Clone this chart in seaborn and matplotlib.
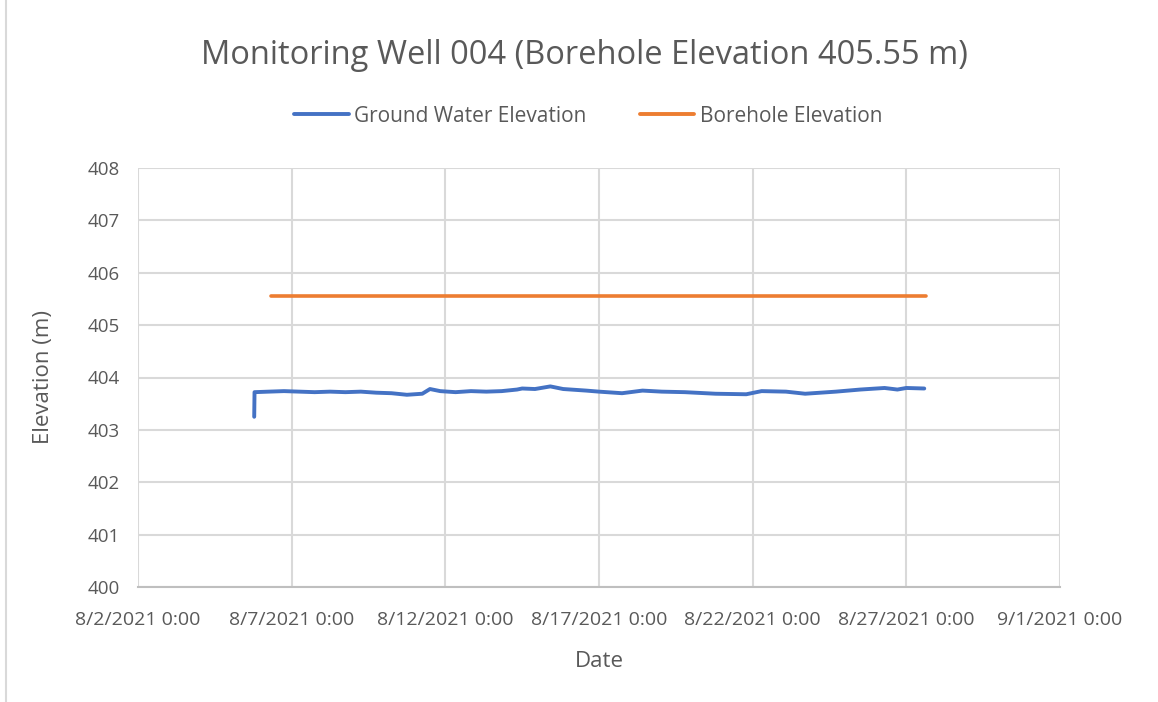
import matplotlib
matplotlib.use("Agg")
import matplotlib.pyplot as plt
import matplotlib.dates as mdates
from matplotlib.lines import Line2D
import pandas as pd
import seaborn as sns

# Logger readings for monitoring well 004
gw_times = [
    "2021-08-05 18:45", "2021-08-05 19:00", "2021-08-06 06:00", "2021-08-06 18:00",
    "2021-08-07 06:00", "2021-08-07 18:00", "2021-08-08 06:00", "2021-08-08 18:00",
    "2021-08-09 06:00", "2021-08-09 18:00", "2021-08-10 06:00", "2021-08-10 18:00",
    "2021-08-11 06:00", "2021-08-11 12:00", "2021-08-11 20:00", "2021-08-12 08:00",
    "2021-08-12 20:00", "2021-08-13 08:00", "2021-08-13 20:00", "2021-08-14 08:00",
    "2021-08-14 12:00", "2021-08-14 22:00", "2021-08-15 10:00", "2021-08-15 20:00",
    "2021-08-16 14:00", "2021-08-17 00:00", "2021-08-17 18:00", "2021-08-18 10:00",
    "2021-08-19 01:00", "2021-08-19 19:00", "2021-08-20 19:00", "2021-08-21 19:00",
    "2021-08-22 07:00", "2021-08-23 02:00", "2021-08-23 17:00", "2021-08-24 17:00",
    "2021-08-25 12:00", "2021-08-26 07:00", "2021-08-26 17:00", "2021-08-27 00:00",
    "2021-08-27 14:00",
]
gw_elev = [
    403.25, 403.72, 403.73, 403.74,
    403.73, 403.72, 403.73, 403.72,
    403.73, 403.71, 403.70, 403.67,
    403.69, 403.78, 403.74, 403.72,
    403.74, 403.73, 403.74, 403.77,
    403.79, 403.78, 403.83, 403.78,
    403.75, 403.73, 403.70, 403.75,
    403.73, 403.72, 403.69, 403.68,
    403.74, 403.73, 403.69, 403.73,
    403.77, 403.80, 403.77, 403.80,
    403.79,
]

borehole_times = ["2021-08-06 08:00", "2021-08-27 15:30"]
borehole_elev = [405.55, 405.55]

x_ticks = ["2021-08-02", "2021-08-07", "2021-08-12", "2021-08-17",
           "2021-08-22", "2021-08-27", "2021-09-01"]
y_ticks = [400, 401, 402, 403, 404, 405, 406, 407, 408]

gw = pd.DataFrame({"Date": pd.to_datetime(gw_times), "Elevation": gw_elev})
bh = pd.DataFrame({"Date": pd.to_datetime(borehole_times), "Elevation": borehole_elev})

BLUE = "#4472C4"
ORANGE = "#ED7D31"
GRID = "#D9D9D9"
TEXT = "#595959"

sns.set_theme(style="white")
plt.rcParams["font.family"] = ["Open Sans", "DejaVu Sans"]

fig = plt.figure(figsize=(11.58, 7.02), dpi=100)
ax = fig.add_axes([138 / 1158, 1 - 587 / 702, (1060 - 138) / 1158, (587 - 168) / 702])

sns.lineplot(data=gw, x="Date", y="Elevation", ax=ax, color=BLUE, linewidth=2.8,
             estimator=None, sort=False)
sns.lineplot(data=bh, x="Date", y="Elevation", ax=ax, color=ORANGE, linewidth=2.6,
             estimator=None, sort=False)

ax.set_xlim(pd.Timestamp(x_ticks[0]), pd.Timestamp(x_ticks[-1]))
ax.set_ylim(y_ticks[0], y_ticks[-1])
ax.set_xticks(pd.to_datetime(x_ticks))
ax.set_yticks(y_ticks)


def fmt_date(v, pos=None):
    d = mdates.num2date(v)
    return f"{d.month}/{d.day}/{d.year} {d.hour}:{d.minute:02d}"


ax.xaxis.set_major_formatter(plt.FuncFormatter(fmt_date))
ax.grid(True, color=GRID, linewidth=1.5)
ax.set_axisbelow(True)
for s in ["top", "right", "left"]:
    ax.spines[s].set_visible(False)
ax.spines["bottom"].set_color("#BFBFBF")
ax.spines["bottom"].set_linewidth(1.5)
ax.tick_params(axis="both", length=0, labelcolor=TEXT)
ax.tick_params(axis="x", pad=17, labelsize=14)
ax.tick_params(axis="y", pad=13, labelsize=13.5)

ax.set_xlabel("Date", fontsize=16, color=TEXT, labelpad=16)
ax.set_ylabel("Elevation (m)", fontsize=16, color=TEXT, labelpad=24)

fig.text(0.5045, 1 - 55 / 702, "Monitoring Well 004 (Borehole Elevation 405.55 m)",
         ha="center", va="center", fontsize=23.5, color=TEXT)

handles = [Line2D([0], [0], color=BLUE, lw=2.8), Line2D([0], [0], color=ORANGE, lw=2.8)]
fig.legend(handles, ["Ground Water Elevation", "Borehole Elevation"],
           loc="center", bbox_to_anchor=(0.508, 1 - 116 / 702), ncol=2, frameon=False,
           fontsize=15, labelcolor=TEXT, handlelength=2.6, handletextpad=0.25,
           columnspacing=2.6)

# chart frame edge on the left
fig.add_artist(Line2D([6 / 1158, 6 / 1158], [0, 1], color=GRID, lw=1.5,
                      transform=fig.transFigure))

fig.savefig("out.png", dpi=100, facecolor="white")
